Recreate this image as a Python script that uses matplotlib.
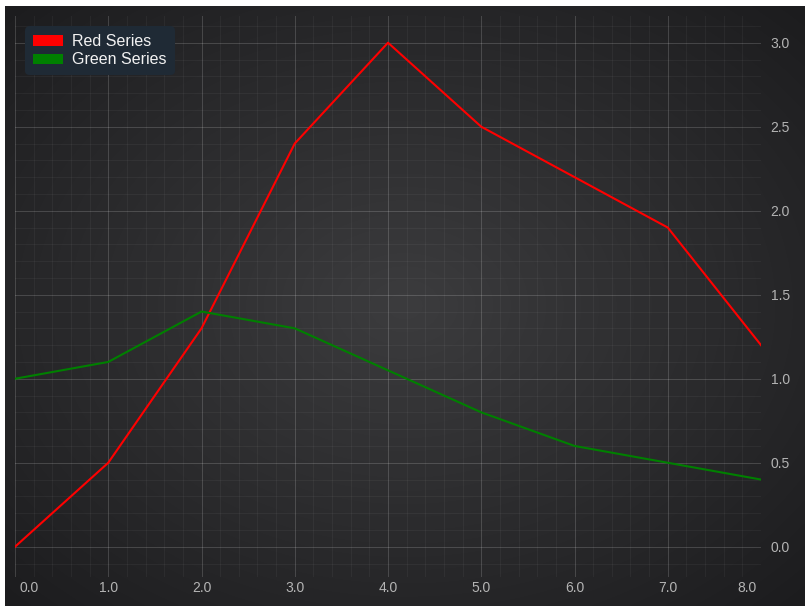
import numpy as np
import matplotlib
matplotlib.use("Agg")
import matplotlib.pyplot as plt
import matplotlib.ticker as mticker
import matplotlib.transforms as mtransforms
from matplotlib.patches import Patch

# data
x_vals = [0, 1, 2, 3, 4, 5, 6, 7, 8]
red_vals = [0.0, 0.5, 1.3, 2.4, 3.0, 2.5, 2.2, 1.9, 1.2]
green_vals = [1.0, 1.1, 1.4, 1.3, 1.05, 0.8, 0.6, 0.5, 0.4]
x_ticks = [0, 1, 2, 3, 4, 5, 6, 7, 8]
y_ticks = [0.0, 0.5, 1.0, 1.5, 2.0, 2.5, 3.0]
series_names = ["Red Series", "Green Series"]

plt.rcParams['font.family'] = ['Liberation Sans', 'DejaVu Sans']

W, H = 808, 612
fig = plt.figure(figsize=(W / 100, H / 100), dpi=100, facecolor='white')

def px_axes(l, t, r, b):
    return [l / W, (H - b) / H, (r - l) / W, (b - t) / H]

# radial gradient background
bg = fig.add_axes(px_axes(5, 6, 805, 606))
gx, gy = np.meshgrid(np.linspace(-1, 1, 400), np.linspace(-1, 1, 300))
d = np.clip(np.sqrt(gx ** 2 + gy ** 2) / 1.414, 0, 1)
c0 = np.array([0x3c, 0x3c, 0x3e]) / 255.0
c1 = np.array([0x1c, 0x1c, 0x1e]) / 255.0
img = c0[None, None, :] * (1 - d[..., None]) + c1[None, None, :] * d[..., None]
bg.imshow(img, aspect='auto', extent=[0, 1, 0, 1], interpolation='bilinear')
bg.set_axis_off()

ax = fig.add_axes(px_axes(15, 16, 761, 577))
ax.set_facecolor('none')
for s in ax.spines.values():
    s.set_visible(False)

ax.plot(x_vals, red_vals, color='#ff0000', lw=1.5, zorder=3)
ax.plot(x_vals, green_vals, color='#008000', lw=1.5, zorder=3)

ax.set_xlim(0, 8)
ax.set_ylim(-0.18, 3.159)
ax.set_xticks(x_ticks)
ax.set_xticklabels([f"{v:.1f}" for v in x_ticks])
ax.set_yticks(y_ticks)
ax.set_yticklabels([f"{v:.1f}" for v in y_ticks])
ax.xaxis.set_minor_locator(mticker.MultipleLocator(0.2))
ax.yaxis.set_minor_locator(mticker.MultipleLocator(0.1))
ax.yaxis.tick_right()

ax.grid(True, which='major', color='white', alpha=0.16, lw=0.75)
ax.grid(True, which='minor', color='white', alpha=0.045, lw=0.75)
ax.set_axisbelow(True)

ax.tick_params(which='both', length=0)
ax.tick_params(axis='x', pad=3, labelsize=10, labelcolor='#b4b4b4')
ax.tick_params(axis='y', pad=7, labelsize=10, labelcolor='#b4b4b4')

xl = ax.get_xticklabels()
xl[0].set_horizontalalignment('left')
xl[0].set_transform(xl[0].get_transform() + mtransforms.ScaledTranslation(4 / 100, 0, fig.dpi_scale_trans))
xl[-1].set_horizontalalignment('right')
xl[-1].set_transform(xl[-1].get_transform() + mtransforms.ScaledTranslation(-4 / 100, 0, fig.dpi_scale_trans))

handles = [Patch(facecolor='#ff0000', edgecolor='none'),
           Patch(facecolor='#008000', edgecolor='none')]
leg = ax.legend(handles, series_names, loc='upper left',
                bbox_to_anchor=(25 / W, 1 - 26 / H), bbox_transform=fig.transFigure,
                fontsize=11.5, frameon=True, fancybox=True, borderpad=0.5,
                handlelength=1.9, handleheight=0.62, handletextpad=0.55,
                labelspacing=0.22, borderaxespad=0)
frame = leg.get_frame()
frame.set_facecolor('#1f2a35')
frame.set_edgecolor('none')
frame.set_alpha(1)
frame.set_boxstyle('round,pad=0,rounding_size=0.3')
for t in leg.get_texts():
    t.set_color('#f2f2f2')

fig.savefig('out.png', dpi=100, facecolor='white')
